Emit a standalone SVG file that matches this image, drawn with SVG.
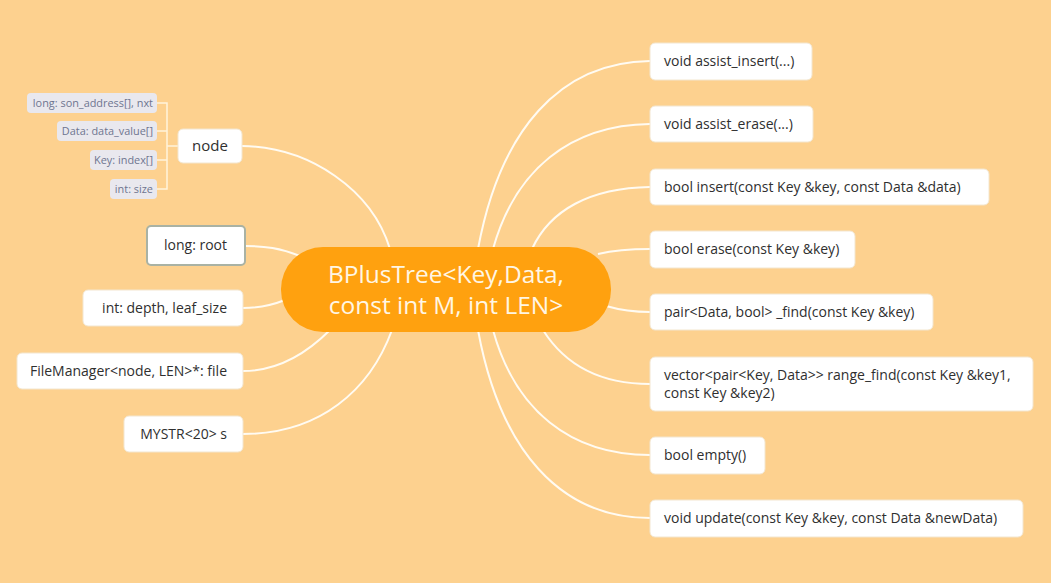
<svg xmlns="http://www.w3.org/2000/svg" width="1051" height="583" viewBox="0 0 1051 583">
<defs>
<style>
.bg{fill:#FDD18F}
.box{fill:#FFFFFF;stroke:#F3E6CF;stroke-width:1}
.sel{fill:#FFFFFF;stroke:#A9B2A4;stroke-width:2}
.sub{fill:#E9E8EE}
.t{font-family:"Open Sans","Liberation Sans",sans-serif;font-size:14px;fill:#2F2F2F}
.ts{font-family:"Open Sans","Liberation Sans",sans-serif;font-size:10.9px;fill:#6E7590}
.tc{font-family:"Open Sans","Liberation Sans",sans-serif;font-size:24.5px;fill:#FFF6E4;text-anchor:middle}
.conn path{fill:none;stroke:#FFFBF2;stroke-width:2}
.br path{fill:none;stroke:#FFF3DC;stroke-width:1.5}
</style>
</defs>
<rect class="bg" x="0" y="0" width="1051" height="583"/>
<g class="conn" id="connectors">
<path d="M390,249 C372,190 310,147 242,146"/>
<path d="M300,256 C280,248 265,246 245,246"/>
<path d="M285,300 C270,306 258,308 243,308"/>
<path d="M330,330 C300,360 270,371 243,371"/>
<path d="M392,330 C370,390 320,434 243,434"/>
<path d="M478,249 C500,130 560,62 650,61"/>
<path d="M493,249 C515,170 570,125 650,124"/>
<path d="M532,249 C550,210 590,188 650,187"/>
<path d="M598,254 C615,250 630,249 650,249"/>
<path d="M606,306 C620,310 632,312 650,312"/>
<path d="M543,330 C565,365 600,384 650,384"/>
<path d="M493,330 C515,410 570,455 650,455"/>
<path d="M478,330 C500,450 560,518 650,518"/>
</g>
<g class="br" id="node-bracket">
<path d="M157,103 H167 V189 H157 M157,131 H167 M157,160 H167 M167,146 H178"/>
</g>
<g id="center">
<rect x="281" y="247" width="330" height="85" rx="42" fill="#FFA10F"/>
<text class="tc" x="446" y="283">BPlusTree&lt;Key,Data,</text>
<text class="tc" x="446" y="314">const int M, int LEN&gt;</text>
</g>
<g id="n-node"><rect class="box" x="178" y="129" width="64" height="34" rx="5"/><text class="t" x="210" y="151" text-anchor="middle" style="font-size:15px">node</text></g>
<g id="s-son"><rect class="sub" x="27" y="93" width="130" height="20" rx="4"/><text class="ts" x="153" y="107" text-anchor="end">long: son_address[], nxt</text></g>
<g id="s-data"><rect class="sub" x="57" y="121" width="100" height="20" rx="4"/><text class="ts" x="153" y="135" text-anchor="end">Data: data_value[]</text></g>
<g id="s-key"><rect class="sub" x="90" y="150" width="67" height="20" rx="4"/><text class="ts" x="153" y="164" text-anchor="end">Key: index[]</text></g>
<g id="s-size"><rect class="sub" x="110" y="179" width="47" height="20" rx="4"/><text class="ts" x="153" y="193" text-anchor="end">int: size</text></g>
<g id="n-root"><rect class="sel" x="147" y="226" width="98" height="39" rx="4"/><text class="t" x="227" y="250" text-anchor="end">long: root</text></g>
<g id="n-depth"><rect class="box" x="83" y="290" width="160" height="36" rx="5"/><text class="t" x="227" y="313" text-anchor="end">int: depth, leaf_size</text></g>
<g id="n-file"><rect class="box" x="17" y="353" width="226" height="36" rx="5"/><text class="t" x="227" y="376" text-anchor="end">FileManager&lt;node, LEN&gt;*: file</text></g>
<g id="n-mystr"><rect class="box" x="124" y="416" width="119" height="36" rx="5"/><text class="t" x="227" y="439" text-anchor="end">MYSTR&lt;20&gt; s</text></g>
<g id="m-ainsert"><rect class="box" x="650" y="43" width="162" height="37" rx="5"/><text class="t" x="664" y="66">void assist_insert(...)</text></g>
<g id="m-aerase"><rect class="box" x="650" y="106" width="163" height="36" rx="5"/><text class="t" x="664" y="129">void assist_erase(...)</text></g>
<g id="m-insert"><rect class="box" x="650" y="169" width="339" height="36" rx="5"/><text class="t" x="664" y="192">bool insert(const Key &amp;key, const Data &amp;data)</text></g>
<g id="m-erase"><rect class="box" x="650" y="231" width="205" height="37" rx="5"/><text class="t" x="664" y="254">bool erase(const Key &amp;key)</text></g>
<g id="m-find"><rect class="box" x="650" y="294" width="283" height="36" rx="5"/><text class="t" x="664" y="317">pair&lt;Data, bool&gt; _find(const Key &amp;key)</text></g>
<g id="m-range"><rect class="box" x="650" y="357" width="383" height="54" rx="5"/><text class="t" x="664" y="380">vector&lt;pair&lt;Key, Data&gt;&gt; range_find(const Key &amp;key1,</text><text class="t" x="664" y="398">const Key &amp;key2)</text></g>
<g id="m-empty"><rect class="box" x="650" y="437" width="115" height="37" rx="5"/><text class="t" x="664" y="460">bool empty()</text></g>
<g id="m-update"><rect class="box" x="650" y="500" width="373" height="37" rx="5"/><text class="t" x="664" y="523">void update(const Key &amp;key, const Data &amp;newData)</text></g>
</svg>
